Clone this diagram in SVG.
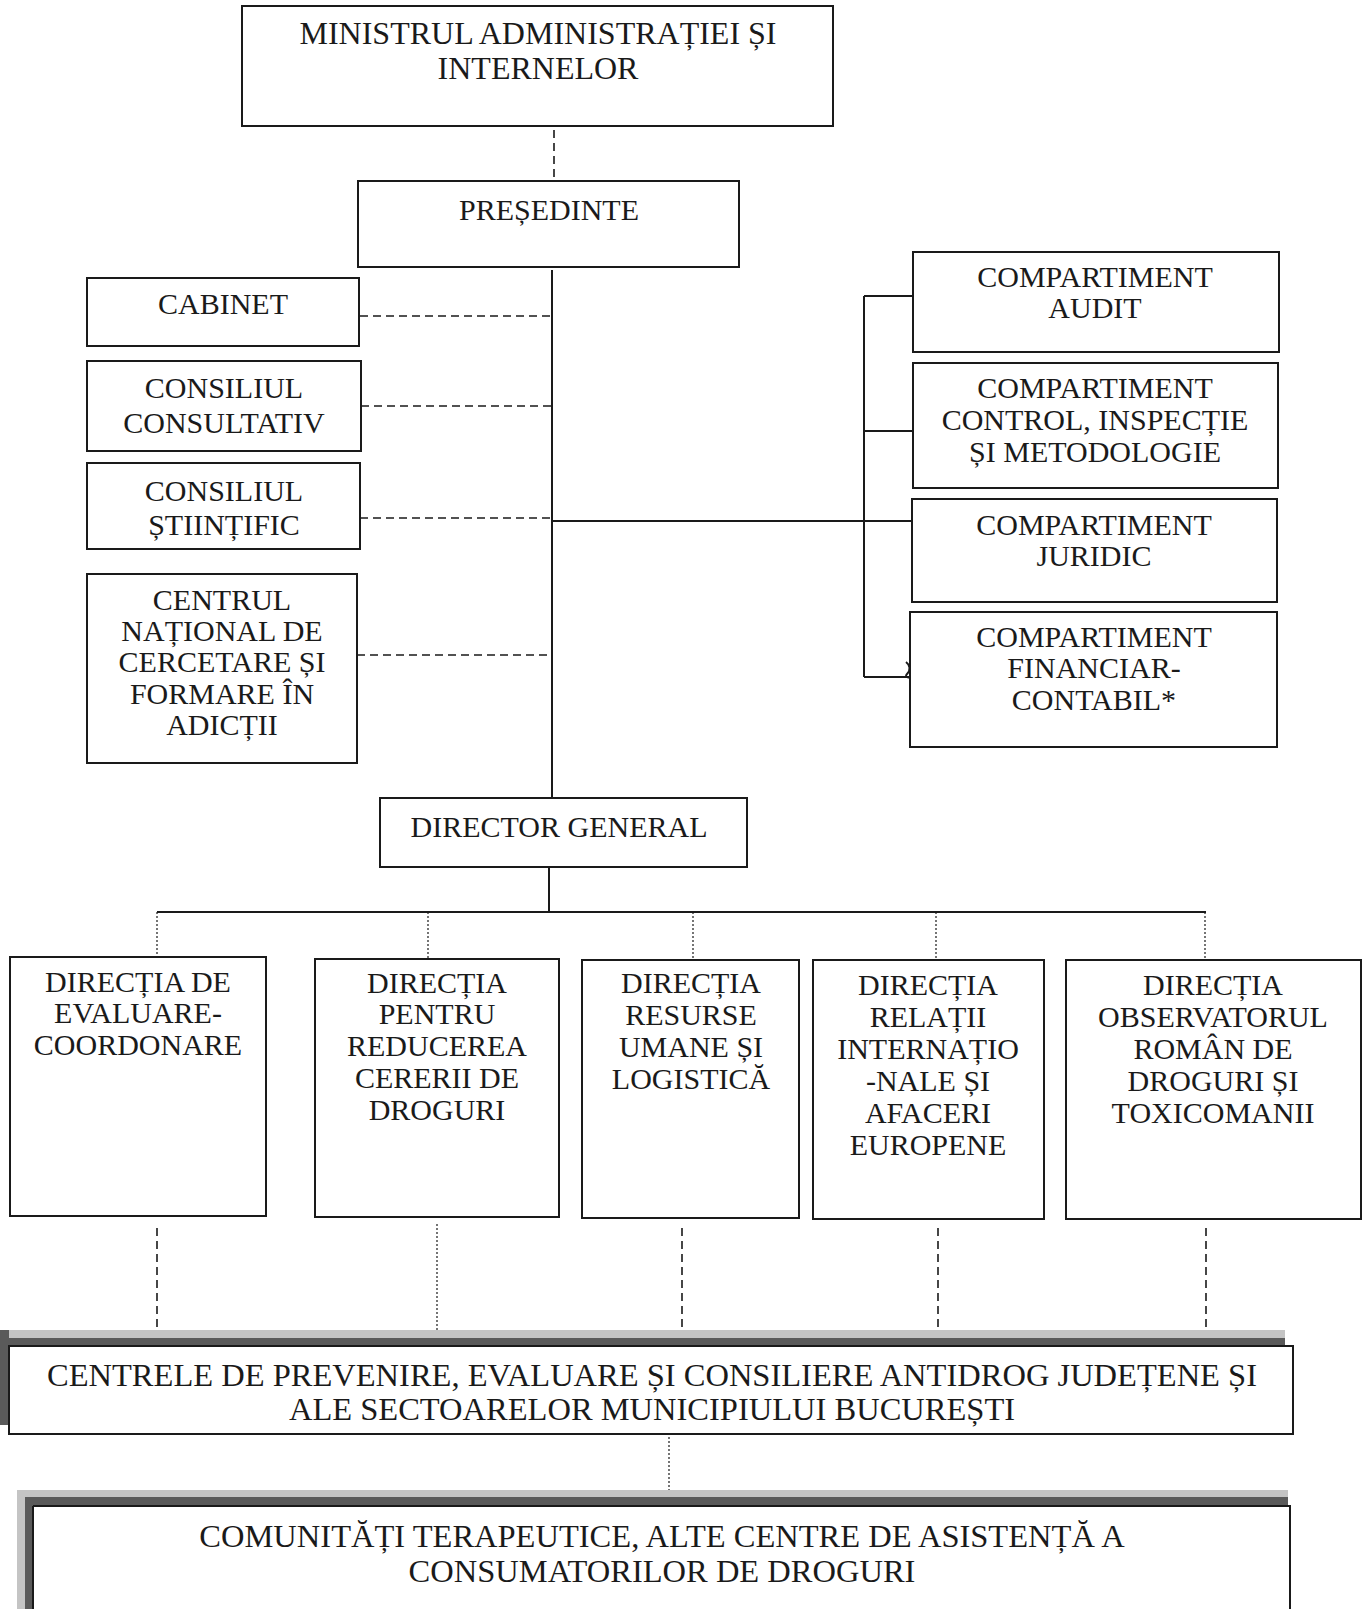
<svg xmlns="http://www.w3.org/2000/svg" width="1366" height="1609" viewBox="0 0 1366 1609">
<style>
.box{fill:#fff;stroke:#1a1a1a;stroke-width:2}
.t{font-family:"Liberation Serif","Times New Roman",serif;font-size:30px;fill:#1a1a1a;text-anchor:middle}
.tb{font-size:32.5px}
.tm{font-size:32px}
.solid{stroke:#1a1a1a;stroke-width:2;fill:none}
.dash{stroke:#1a1a1a;stroke-width:1.6;stroke-dasharray:8 5;fill:none}
.dot{stroke:#1a1a1a;stroke-width:1.2;stroke-dasharray:2 2;fill:none}
.shl{fill:#c4c4c4}
.shd{fill:#5a5a5a}
</style>
<rect width="1366" height="1609" fill="#fff"/>
<g id="connectors">
<path class="dash" d="M554 130V180"/>
<path class="solid" d="M552 270V798"/>
<path class="dash" d="M360 316H552M361 406H552M360 518H552M357 655H552"/>
<path class="solid" d="M552 521H912M864 296V677M864 296H918M864 431H918M864 677H912"/>
<path class="solid" d="M906 662c4 3 5 8 1 12c-3 3 2 4 5 3" stroke-width="1.5"/>
<path class="solid" d="M549 867V912M157 912H1206"/>
<path class="dot" d="M157 912V957M428 912V959M693 912V960M936 912V960M1205 912V960"/>
<path class="dash" d="M157 1228V1330M682 1228V1330M938 1228V1330M1206 1228V1330"/>
<path class="dot" d="M437 1224V1330"/>
<path class="dot" d="M669 1437V1490"/>
</g>
<g id="n-ministru"><rect class="box" x="242" y="6" width="591" height="120"/><text class="t tm" x="538" y="44">MINISTRUL ADMINISTRAȚIEI ȘI</text><text class="t tm" x="538" y="79">INTERNELOR</text></g>
<g id="n-presedinte"><rect class="box" x="358" y="181" width="381" height="86"/><text class="t" x="549" y="220">PREȘEDINTE</text></g>
<g id="n-cabinet"><rect class="box" x="87" y="278" width="272" height="68"/><text class="t" x="223" y="314">CABINET</text></g>
<g id="n-consultativ"><rect class="box" x="87" y="361" width="274" height="90"/><text class="t" x="224" y="398">CONSILIUL</text><text class="t" x="224" y="433">CONSULTATIV</text></g>
<g id="n-stiintific"><rect class="box" x="87" y="463" width="273" height="86"/><text class="t" x="224" y="501">CONSILIUL</text><text class="t" x="224" y="535">ȘTIINȚIFIC</text></g>
<g id="n-centrul"><rect class="box" x="87" y="574" width="270" height="189"/><text class="t" x="222" y="610">CENTRUL</text><text class="t" x="222" y="641">NAȚIONAL DE</text><text class="t" x="222" y="672">CERCETARE ȘI</text><text class="t" x="222" y="704">FORMARE ÎN</text><text class="t" x="222" y="735">ADICȚII</text></g>
<g id="n-audit"><rect class="box" x="913" y="252" width="366" height="100"/><text class="t" x="1095" y="287">COMPARTIMENT</text><text class="t" x="1095" y="318">AUDIT</text></g>
<g id="n-control"><rect class="box" x="913" y="363" width="365" height="125"/><text class="t" x="1095" y="398">COMPARTIMENT</text><text class="t" x="1095" y="430">CONTROL, INSPECȚIE</text><text class="t" x="1095" y="462">ȘI METODOLOGIE</text></g>
<g id="n-juridic"><rect class="box" x="912" y="499" width="365" height="103"/><text class="t" x="1094" y="535">COMPARTIMENT</text><text class="t" x="1094" y="566">JURIDIC</text></g>
<g id="n-financiar"><rect class="box" x="910" y="612" width="367" height="135"/><text class="t" x="1094" y="647">COMPARTIMENT</text><text class="t" x="1094" y="678">FINANCIAR-</text><text class="t" x="1094" y="710">CONTABIL*</text></g>
<g id="n-director"><rect class="box" x="380" y="798" width="367" height="69"/><text class="t" x="559" y="837">DIRECTOR GENERAL</text></g>
<g id="n-d1"><rect class="box" x="10" y="957" width="256" height="259"/><text class="t" x="138" y="992">DIRECȚIA DE</text><text class="t" x="138" y="1023">EVALUARE-</text><text class="t" x="138" y="1055">COORDONARE</text></g>
<g id="n-d2"><rect class="box" x="315" y="959" width="244" height="258"/><text class="t" x="437" y="993">DIRECȚIA</text><text class="t" x="437" y="1024">PENTRU</text><text class="t" x="437" y="1056">REDUCEREA</text><text class="t" x="437" y="1088">CERERII DE</text><text class="t" x="437" y="1120">DROGURI</text></g>
<g id="n-d3"><rect class="box" x="582" y="960" width="217" height="258"/><text class="t" x="691" y="993">DIRECȚIA</text><text class="t" x="691" y="1025">RESURSE</text><text class="t" x="691" y="1057">UMANE ȘI</text><text class="t" x="691" y="1089">LOGISTICĂ</text></g>
<g id="n-d4"><rect class="box" x="813" y="960" width="231" height="259"/><text class="t" x="928" y="995">DIRECȚIA</text><text class="t" x="928" y="1027">RELAȚII</text><text class="t" x="928" y="1059">INTERNAȚIO</text><text class="t" x="928" y="1091">-NALE ȘI</text><text class="t" x="928" y="1123">AFACERI</text><text class="t" x="928" y="1155">EUROPENE</text></g>
<g id="n-d5"><rect class="box" x="1066" y="960" width="295" height="259"/><text class="t" x="1213" y="995">DIRECȚIA</text><text class="t" x="1213" y="1027">OBSERVATORUL</text><text class="t" x="1213" y="1059">ROMÂN DE</text><text class="t" x="1213" y="1091">DROGURI ȘI</text><text class="t" x="1213" y="1123">TOXICOMANII</text></g>
<g id="n-centrele">
<rect class="shl" x="0" y="1330" width="1285" height="9"/>
<rect class="shd" x="0" y="1338" width="1285" height="8"/>
<rect class="shd" x="0" y="1330" width="9" height="95"/>
<rect class="box" x="9" y="1346" width="1284" height="88"/>
<text class="t tb" x="652" y="1386">CENTRELE DE PREVENIRE, EVALUARE ȘI CONSILIERE ANTIDROG JUDEȚENE ȘI</text>
<text class="t tb" x="652" y="1420">ALE SECTOARELOR MUNICIPIULUI BUCUREȘTI</text>
</g>
<g id="n-comunitati">
<rect class="shl" x="18" y="1490" width="1270" height="8"/>
<rect class="shd" x="25" y="1497" width="1263" height="9"/>
<rect class="shl" x="17" y="1490" width="8" height="119"/>
<rect class="shd" x="25" y="1497" width="8" height="112"/>
<path class="solid" d="M33 1506H1290V1609M33 1506V1609"/>
<text class="t tb" x="662" y="1547">COMUNITĂȚI TERAPEUTICE, ALTE CENTRE DE ASISTENȚĂ A</text>
<text class="t tb" x="662" y="1582">CONSUMATORILOR DE DROGURI</text>
</g>
</svg>
